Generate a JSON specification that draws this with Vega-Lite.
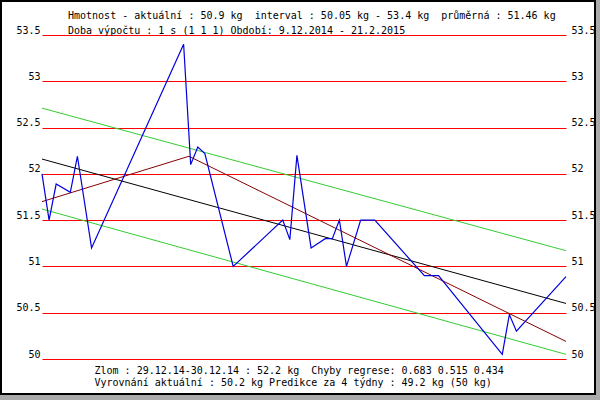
{
  "$schema": "https://vega.github.io/schema/vega-lite/v6.json",
  "description": "Hmotnost - denni vazeni s regresnimi primkami",
  "width": 594,
  "height": 393,
  "autosize": "none",
  "padding": {"left": 1, "top": 1, "right": 5, "bottom": 6},
  "background": "#aaaaaa",
  "config": {
    "view": {"stroke": "#000000", "strokeWidth": 2, "fill": "#ffffff"},
    "font": "DejaVu Sans Mono",
    "axis": {"labelFont": "DejaVu Sans Mono", "titleFont": "DejaVu Sans Mono"}
  },
  "title": {
    "text": [
      "Hmotnost - aktuální : 50.9 kg\u00a0 interval : 50.05 kg - 53.4 kg\u00a0 průměrná : 51.46 kg",
      "Doba výpočtu : 1 s (1 1 1) Období: 9.12.2014 - 21.2.2015"
    ],
    "orient": "top",
    "anchor": "start",
    "frame": "group",
    "offset": 0,
    "dx": 67,
    "dy": 43,
    "baseline": "alphabetic",
    "lineHeight": 15,
    "font": "DejaVu Sans Mono",
    "fontSize": 10,
    "fontWeight": "normal",
    "color": "#000000"
  },
  "datasets": {
    "vaha": [
      {"date": "2014-12-09", "kg": 52.0},
      {"date": "2014-12-10", "kg": 51.5},
      {"date": "2014-12-11", "kg": 51.89},
      {"date": "2014-12-13", "kg": 51.8},
      {"date": "2014-12-14", "kg": 52.19},
      {"date": "2014-12-16", "kg": 51.2},
      {"date": "2014-12-29", "kg": 53.4},
      {"date": "2014-12-30", "kg": 52.1},
      {"date": "2014-12-31", "kg": 52.29},
      {"date": "2015-01-01", "kg": 52.22},
      {"date": "2015-01-05", "kg": 51.0},
      {"date": "2015-01-12", "kg": 51.5},
      {"date": "2015-01-13", "kg": 51.29},
      {"date": "2015-01-14", "kg": 52.2},
      {"date": "2015-01-16", "kg": 51.2},
      {"date": "2015-01-18", "kg": 51.3},
      {"date": "2015-01-19", "kg": 51.3},
      {"date": "2015-01-20", "kg": 51.5},
      {"date": "2015-01-21", "kg": 51.0},
      {"date": "2015-01-23", "kg": 51.5},
      {"date": "2015-01-25", "kg": 51.5},
      {"date": "2015-02-01", "kg": 50.9},
      {"date": "2015-02-03", "kg": 50.9},
      {"date": "2015-02-12", "kg": 50.05},
      {"date": "2015-02-13", "kg": 50.48},
      {"date": "2015-02-14", "kg": 50.3},
      {"date": "2015-02-21", "kg": 50.89}
    ],
    "trendy": [
      {"serie": "horni", "date": "2014-12-09", "kg": 52.71},
      {"serie": "horni", "date": "2015-02-21", "kg": 51.17},
      {"serie": "dolni", "date": "2014-12-09", "kg": 51.62},
      {"serie": "dolni", "date": "2015-02-21", "kg": 50.05},
      {"serie": "regrese", "date": "2014-12-09", "kg": 52.16},
      {"serie": "regrese", "date": "2015-02-21", "kg": 50.6},
      {"serie": "zlom", "date": "2014-12-09", "kg": 51.7},
      {"serie": "zlom", "date": "2014-12-29T18:00:00Z", "kg": 52.19},
      {"serie": "zlom", "date": "2015-02-21", "kg": 50.19}
    ]
  },
  "encoding": {
    "x": {
      "field": "date",
      "type": "temporal",
      "scale": {"range": [41, 565], "nice": false},
      "axis": {
        "title": [
          "Zlom : 29.12.14-30.12.14 : 52.2 kg\u00a0 Chyby regrese: 0.683 0.515 0.434",
          "Vyrovnání aktuální : 50.2 kg Predikce za 4 týdny : 49.2 kg (50 kg)"
        ],
        "labels": false,
        "ticks": false,
        "domain": false,
        "grid": false,
        "titleX": 93,
        "titleY": -21,
        "titleAlign": "left",
        "titleBaseline": "alphabetic",
        "titleAngle": 0,
        "titleLineHeight": 12,
        "titleFontSize": 10,
        "titleFontWeight": "normal",
        "titleColor": "#000000"
      }
    }
  },
  "layer": [
    {
      "data": {"name": "trendy"},
      "mark": {"type": "line", "strokeWidth": 1},
      "encoding": {
        "y": {
          "field": "kg",
          "type": "quantitative",
          "scale": {"domain": [50, 53.5], "range": [358, 34], "nice": false, "zero": false},
          "axis": {
            "orient": "left",
            "offset": -41,
            "title": null,
            "values": [50, 50.5, 51, 51.5, 52, 52.5, 53, 53.5],
            "format": ".1~f",
            "domain": false,
            "ticks": false,
            "tickSize": 0,
            "labelPadding": 2,
            "labelBaseline": "alphabetic",
            "labelOffset": -2,
            "labelFontSize": 10,
            "labelColor": "#000000",
            "labelOverlap": false,
            "labelFlush": false,
            "labelBound": false,
            "grid": true,
            "gridColor": "#ff0000",
            "gridWidth": 1.2,
            "gridOpacity": 1
          }
        },
        "color": {
          "field": "serie",
          "type": "nominal",
          "scale": {
            "domain": ["horni", "dolni", "regrese", "zlom"],
            "range": ["#33cc33", "#33cc33", "#000000", "#880000"]
          },
          "legend": null
        }
      }
    },
    {
      "data": {"name": "vaha"},
      "mark": {"type": "line", "color": "#0000dd", "strokeWidth": 1.2},
      "encoding": {
        "y": {
          "field": "kg",
          "type": "quantitative",
          "axis": {
            "orient": "right",
            "offset": -29,
            "title": null,
            "values": [50, 50.5, 51, 51.5, 52, 52.5, 53, 53.5],
            "format": ".1~f",
            "domain": false,
            "ticks": false,
            "tickSize": 0,
            "labelPadding": 5,
            "labelBaseline": "alphabetic",
            "labelOffset": -2,
            "labelFontSize": 10,
            "labelColor": "#000000",
            "labelOverlap": false,
            "labelFlush": false,
            "labelBound": false,
            "grid": false
          }
        }
      }
    }
  ],
  "resolve": {"axis": {"y": "independent"}}
}
